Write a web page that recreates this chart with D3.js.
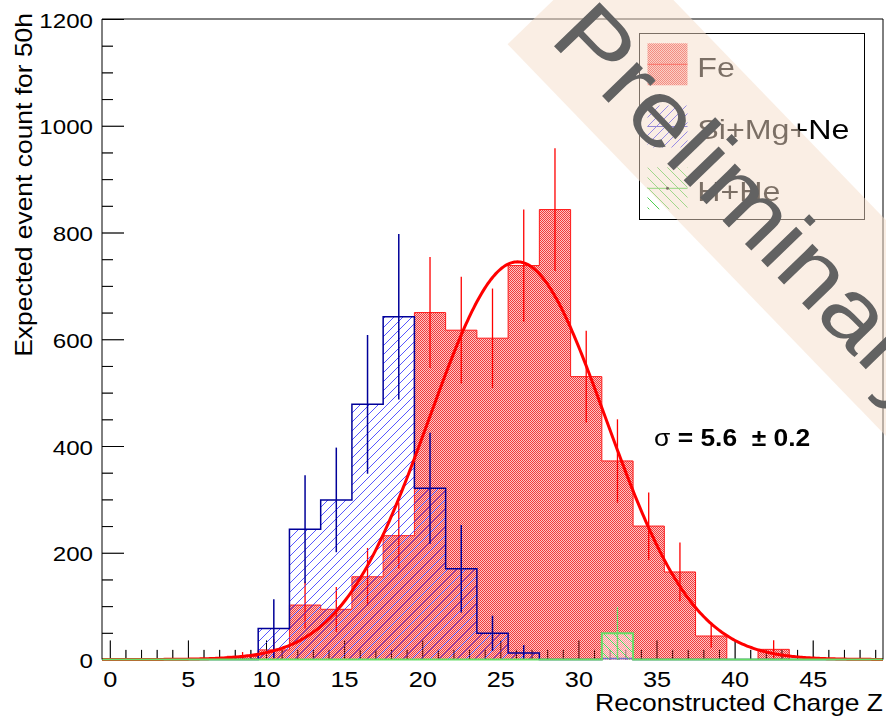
<!DOCTYPE html>
<html><head><meta charset="utf-8">
<script src="https://cdn.jsdelivr.net/npm/d3@7"></script>
<style>body{margin:0;background:#fff}svg{display:block}</style>
</head><body><svg id="c" width="886" height="717"></svg>
<script>
// ---------- data ----------
const binEdges = [-0.5,1.5,3.5,5.5,7.5,9.5,11.5,13.5,15.5,17.5,19.5,21.5,23.5,25.5,27.5,29.5,31.5,33.5,35.5,37.5,39.5,41.5,43.5,45.5,47.5,49.5];
const feCounts  = [0,0,0,0,6,18,102,94,155,232,650,617,602,738,843,530,372,250,164,44,0,19,0,0,0];
const feErrors  = [0,0,0,0,8,20,44,42,54,62,104,100,93,105,115,86,78,63,55,22,0,17,0,0,0];
const siCounts  = [0,0,0,0,0,58,244,299,478,642,321,170,49,12,0,0,2,0,0,0,0,0,0,0,0];
const siErrors  = [0,0,0,0,0,55,101,98,130,155,104,82,33,15,0,0,3,0,0,0,0,0,0,0,0];
const hheCounts = [0,0,0,0,0,0,0,0,0,0,0,0,0,0,0,0,49,0,0,0,0,0,0,0,0];
const hheErrors = [0,0,0,0,0,0,0,0,0,0,0,0,0,0,0,0,49,0,0,0,0,0,0,0,0];
const fitAmplitude = 745, fitMean = 26.1, fitSigma = 5.65;
const xMajorTicks = [0,5,10,15,20,25,30,35,40,45];
const yMajorTicks = [0,200,400,600,800,1000,1200];
const legendLabels = ["Fe","Si+Mg+Ne","H+He"];
const xTitle = "Reconstructed Charge Z";
const yTitle = "Expected event count for 50h";
const sigmaLabel = ["\u03c3", " = 5.6 ", " \u00b1 0.2"];
const watermark = "Preliminary";

// ---------- setup ----------
const svg = d3.select("#c");
const FONT = "'Liberation Sans', Arial, Helvetica, sans-serif";
const SX = 1.15; // horizontal glyph stretch of the reference font
const x = d3.scaleLinear().domain([-0.5, 49.5]).range([102, 883]);
const y = d3.scaleLinear().domain([0, 1200]).range([659.5, 19]);

svg.append("rect").attr("width",886).attr("height",717).attr("fill","#fff");

const defs = svg.append("defs");
const rp = defs.append("pattern").attr("id","redPat").attr("patternUnits","userSpaceOnUse").attr("width",2).attr("height",2);
rp.append("rect").attr("x",0).attr("y",0).attr("width",1).attr("height",1).attr("fill","#f03c3c");
rp.append("rect").attr("x",1).attr("y",1).attr("width",1).attr("height",1).attr("fill","#f03c3c");
rp.append("rect").attr("x",1).attr("y",0).attr("width",1).attr("height",1).attr("fill","rgba(255,40,40,0.28)");
rp.append("rect").attr("x",0).attr("y",1).attr("width",1).attr("height",1).attr("fill","rgba(255,40,40,0.28)");
const bp = defs.append("pattern").attr("id","bluePat").attr("patternUnits","userSpaceOnUse").attr("width",9).attr("height",9);
bp.append("path").attr("d","M0,9L9,0M-1,1L1,-1M8,10L10,8").attr("stroke","#3a3aff").attr("stroke-width",1);
const gp = defs.append("pattern").attr("id","greenPat").attr("patternUnits","userSpaceOnUse").attr("width",10).attr("height",10);
gp.append("path").attr("d","M0,0L10,10M-1,9L1,11M9,-1L11,1").attr("stroke","#4fcf4f").attr("stroke-width",1);

// ---------- axes ----------
const xMinor = d3.range(0, 50).filter(v => !xMajorTicks.includes(v));
const yMinor = d3.range(0, 1201, 50).filter(v => !yMajorTicks.includes(v));
function drawTicks(parent, withLabels){
  const gx = parent.append("g").attr("transform","translate(0,659.5)");
  gx.call(d3.axisBottom(x).tickValues(xMinor).tickSize(-9.6).tickFormat(""));
  gx.select(".domain").remove();
  const gx2 = parent.append("g").attr("transform","translate(0,659.5)");
  gx2.call(d3.axisBottom(x).tickValues(xMajorTicks).tickSize(-19).tickFormat(d3.format("d")));
  gx2.select(".domain").remove();
  const gy = parent.append("g").attr("transform","translate(102,0)");
  gy.call(d3.axisLeft(y).tickValues(yMinor).tickSize(-11).tickFormat(""));
  gy.select(".domain").remove();
  const gy2 = parent.append("g").attr("transform","translate(102,0)");
  gy2.call(d3.axisLeft(y).tickValues(yMajorTicks).tickSize(-22).tickFormat(d3.format("d")));
  gy2.select(".domain").remove();
  parent.selectAll(".tick line").attr("stroke","#000").attr("stroke-width",1);
  if (withLabels){
    gx2.selectAll("text").attr("y",27.2).attr("dy",null).attr("font-size",22).attr("font-family",FONT)
       .attr("fill","#000").attr("transform",`scale(${SX},1)`);
    gy2.selectAll("text").attr("x",-9/SX).attr("y",8).attr("dy",null).attr("font-size",21).attr("font-family",FONT)
       .attr("fill","#000").attr("text-anchor","end").attr("transform",`scale(${SX},1)`);
  } else {
    parent.selectAll("text").remove();
  }
}
drawTicks(svg.append("g"), true);

// ---------- histogram helpers ----------
function stepPath(counts){
  const p = d3.path();
  p.moveTo(x(binEdges[0]), y(0));
  counts.forEach((c,i)=>{ p.lineTo(x(binEdges[i]), y(c)); p.lineTo(x(binEdges[i+1]), y(c)); });
  p.lineTo(x(binEdges[binEdges.length-1]), y(0));
  return p.toString();
}
function errBars(g, counts, errs, color, w){
  const d = counts.map((c,i)=>({c, e:errs[i], m:(binEdges[i]+binEdges[i+1])/2})).filter(o=>o.e>0);
  g.selectAll(null).data(d).join("line")
    .attr("x1",o=>x(o.m)).attr("x2",o=>x(o.m))
    .attr("y1",o=>y(Math.max(0,o.c-o.e))).attr("y2",o=>y(o.c+o.e))
    .attr("stroke",color).attr("stroke-width",w);
}

// Fe fill
const gFe = svg.append("g");
gFe.append("path").attr("d",stepPath(feCounts)+"Z").attr("fill","url(#redPat)");
// ticks seen through the red pattern
drawTicks(svg.append("g").attr("opacity",0.45), false);
// Si+Mg+Ne (blue hatch) seen through red pattern
const gSi = svg.append("g");
gSi.append("path").attr("d",stepPath(siCounts)+"Z").attr("fill","url(#bluePat)").attr("opacity",0.85);
gSi.append("path").attr("d",stepPath(siCounts)).attr("fill","none").attr("stroke","#000099").attr("stroke-width",1.5);
// Fe outline + errors
gFe.append("path").attr("d",stepPath(feCounts)).attr("fill","none").attr("stroke","#ff1a1a").attr("stroke-width",1);
errBars(svg.append("g"), feCounts, feErrors, "#ff0000", 1.3);
errBars(gSi, siCounts, siErrors, "#000099", 1.5);
gSi.raise();

// Gaussian fit
const fitX = d3.range(-0.5, 49.51, 0.1);
const line = d3.line().x(d=>x(d)).y(d=>y(fitAmplitude*Math.exp(-0.5*Math.pow((d-fitMean)/fitSigma,2))));
svg.append("path").attr("d",line(fitX)).attr("fill","none").attr("stroke","#ff0000").attr("stroke-width",3);

// H+He (green hatch)
const gH = svg.append("g");
gH.append("path").attr("d",stepPath(hheCounts)+"Z").attr("fill","rgba(255,255,255,0.45)");
gH.append("path").attr("d",stepPath(hheCounts)+"Z").attr("fill","url(#greenPat)");
gH.append("path").attr("d",stepPath(hheCounts)).attr("fill","none").attr("stroke","#66dd66").attr("stroke-width",2);
errBars(gH, hheCounts, hheErrors, "#66dd66", 1.3);

// frame
svg.append("path").attr("d",`M102,659.5V19H883V659.5`).attr("fill","none").attr("stroke","#000").attr("stroke-width",1);

// axis titles
svg.append("text").attr("transform",`translate(883,710.7) scale(${SX},1)`).attr("text-anchor","end")
  .attr("font-family",FONT).attr("font-size",23).text(xTitle);
svg.append("text").attr("transform",`translate(31.7,13) rotate(-90) scale(${SX},1)`).attr("text-anchor","end")
  .attr("font-family",FONT).attr("font-size",23).text(yTitle);

// sigma label
const st = svg.append("text").attr("transform",`translate(654,446) scale(1.1,1)`)
  .attr("font-family",FONT).attr("font-size",24).attr("fill","#000");
st.append("tspan").attr("font-weight","normal").text(sigmaLabel[0]);
st.append("tspan").attr("font-weight","bold").attr("xml:space","preserve").text(sigmaLabel[1]);
st.append("tspan").attr("font-weight","bold").text(sigmaLabel[2]);

// legend
const lg = svg.append("g");
lg.append("rect").attr("x",639.5).attr("y",33.5).attr("width",225).attr("height",186).attr("fill","#fff").attr("stroke","#000");
const rowsY = [64.3, 126.5, 188.3];
const fills = ["url(#redPat)","url(#bluePat)","url(#greenPat)"];
const lcol = ["#ff0000","#3333dd","#33cc33"];
legendLabels.forEach((lab,i)=>{
  lg.append("rect").attr("x",647.5).attr("y",rowsY[i]-21).attr("width",40).attr("height",42).attr("fill",fills[i]);
  lg.append("line").attr("x1",647.5).attr("x2",687.5).attr("y1",rowsY[i]).attr("y2",rowsY[i]).attr("stroke",lcol[i]).attr("stroke-width",1);
  lg.append("text").attr("transform",`translate(697.3,${rowsY[i]+12.4}) scale(${SX},1)`)
    .attr("font-family",FONT).attr("font-size",28).attr("fill","#000").text(lab);
});
lg.append("circle").attr("cx",667.5).attr("cy",rowsY[2]).attr("r",1.5).attr("fill","#000");

// watermark
const wm = svg.append("g").attr("transform","translate(548,40) rotate(46)");
wm.append("rect").attr("x",-25).attr("y",-118).attr("width",720).attr("height",150)
  .attr("fill","rgb(245,221,201)").attr("opacity",0.5);
wm.append("text").attr("x",0).attr("y",0).attr("transform",`scale(${SX},1)`).attr("font-family",FONT).attr("font-size",92)
  .attr("fill","#626262").text(watermark);
</script></body></html>
